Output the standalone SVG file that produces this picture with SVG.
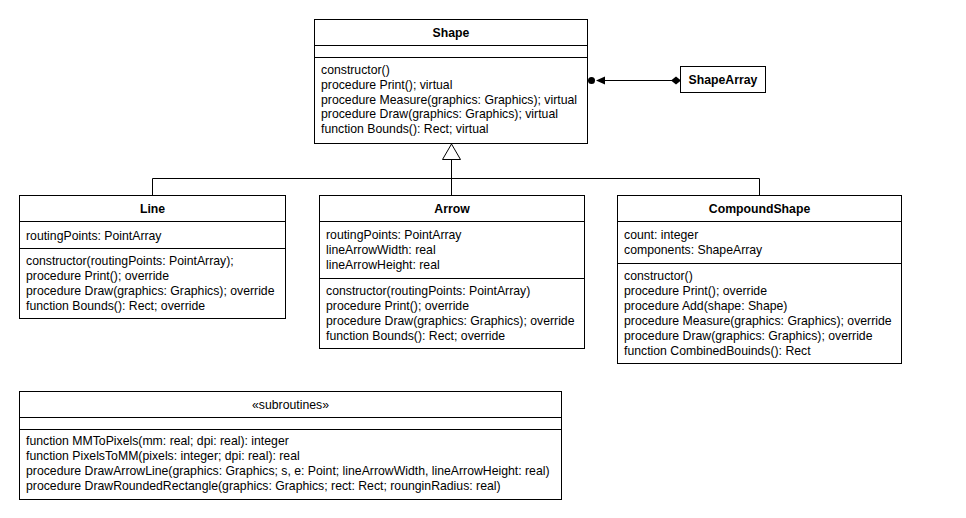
<svg xmlns="http://www.w3.org/2000/svg" width="966" height="518" viewBox="0 0 966 518">
<style>
  .box { fill: #ffffff; stroke: #000000; stroke-width: 1; }
  .sep { stroke: #000000; stroke-width: 1; fill: none; }
  .t { font-family: "Liberation Sans", Arial, sans-serif; font-size: 12.25px; fill: #000000; }
  .title { font-family: "Liberation Sans", Arial, sans-serif; font-size: 12.25px; font-weight: bold; fill: #000000; text-anchor: middle; }
  .stereo { font-family: "Liberation Sans", Arial, sans-serif; font-size: 12.25px; fill: #000000; text-anchor: middle; }
  .conn { stroke: #000000; stroke-width: 1; fill: none; }
</style>
<rect width="966" height="518" fill="#ffffff"/>

<g id="connectors">
  <!-- generalization -->
  <polyline class="conn" points="152.5,195 152.5,178.5 759.5,178.5 759.5,195"/>
  <line class="conn" x1="451.5" y1="159" x2="451.5" y2="195"/>
  <polygon points="451.5,144 442.5,159.5 460.5,159.5" fill="#ffffff" stroke="#000000" stroke-width="1"/>
  <!-- aggregation ShapeArray -> Shape -->
  <line class="conn" x1="600" y1="80.5" x2="672" y2="80.5"/>
  <circle cx="591.5" cy="80.5" r="3.5" fill="#000000"/>
  <polygon points="596,80.5 605,76.5 605,84.5" fill="#000000"/>
  <polygon points="671,80.5 676,76.5 681,80.5 676,84.5" fill="#000000"/>
</g>

<g id="node-shape">
  <rect class="box" x="314.5" y="19.5" width="273" height="124"/>
  <line class="sep" x1="314.5" y1="45.5" x2="587.5" y2="45.5"/>
  <line class="sep" x1="314.5" y1="57.5" x2="587.5" y2="57.5"/>
  <text class="title" x="451" y="37">Shape</text>
  <text class="t" x="321" y="74">constructor()</text>
  <text class="t" x="321" y="89">procedure Print(); virtual</text>
  <text class="t" x="321" y="103.5">procedure Measure(graphics: Graphics); virtual</text>
  <text class="t" x="321" y="118">procedure Draw(graphics: Graphics); virtual</text>
  <text class="t" x="321" y="133">function Bounds(): Rect; virtual</text>
</g>

<g id="node-shapearray">
  <rect class="box" x="680.5" y="66.5" width="85" height="26"/>
  <text class="title" x="723" y="84">ShapeArray</text>
</g>

<g id="node-line">
  <rect class="box" x="19.5" y="195.5" width="266" height="123"/>
  <line class="sep" x1="19.5" y1="221.5" x2="285.5" y2="221.5"/>
  <line class="sep" x1="19.5" y1="248.5" x2="285.5" y2="248.5"/>
  <text class="title" x="152.5" y="212.5">Line</text>
  <text class="t" x="26" y="239.5">routingPoints: PointArray</text>
  <text class="t" x="26" y="265">constructor(routingPoints: PointArray);</text>
  <text class="t" x="26" y="280">procedure Print(); override</text>
  <text class="t" x="26" y="295">procedure Draw(graphics: Graphics); override</text>
  <text class="t" x="26" y="310">function Bounds(): Rect; override</text>
</g>

<g id="node-arrow">
  <rect class="box" x="319.5" y="195.5" width="265" height="153"/>
  <line class="sep" x1="319.5" y1="221.5" x2="584.5" y2="221.5"/>
  <line class="sep" x1="319.5" y1="278.5" x2="584.5" y2="278.5"/>
  <text class="title" x="452" y="212.5">Arrow</text>
  <text class="t" x="326" y="238.5">routingPoints: PointArray</text>
  <text class="t" x="326" y="253.5">lineArrowWidth: real</text>
  <text class="t" x="326" y="268.5">lineArrowHeight: real</text>
  <text class="t" x="326" y="294.5">constructor(routingPoints: PointArray)</text>
  <text class="t" x="326" y="309.5">procedure Print(); override</text>
  <text class="t" x="326" y="324.5">procedure Draw(graphics: Graphics); override</text>
  <text class="t" x="326" y="339.5">function Bounds(): Rect; override</text>
</g>

<g id="node-compoundshape">
  <rect class="box" x="617.5" y="195.5" width="284" height="168"/>
  <line class="sep" x1="617.5" y1="221.5" x2="901.5" y2="221.5"/>
  <line class="sep" x1="617.5" y1="263.5" x2="901.5" y2="263.5"/>
  <text class="title" x="759.5" y="212.5">CompoundShape</text>
  <text class="t" x="624" y="238.5">count: integer</text>
  <text class="t" x="624" y="253.5">components: ShapeArray</text>
  <text class="t" x="624" y="279.5">constructor()</text>
  <text class="t" x="624" y="294.5">procedure Print(); override</text>
  <text class="t" x="624" y="309.5">procedure Add(shape: Shape)</text>
  <text class="t" x="624" y="324.5">procedure Measure(graphics: Graphics); override</text>
  <text class="t" x="624" y="339.5">procedure Draw(graphics: Graphics); override</text>
  <text class="t" x="624" y="354.5">function CombinedBouinds(): Rect</text>
</g>

<g id="node-subroutines">
  <rect class="box" x="19.5" y="391.5" width="542" height="108"/>
  <line class="sep" x1="19.5" y1="417.5" x2="561.5" y2="417.5"/>
  <line class="sep" x1="19.5" y1="429.5" x2="561.5" y2="429.5"/>
  <text class="stereo" x="290.5" y="409">«subroutines»</text>
  <text class="t" x="26" y="445">function MMToPixels(mm: real; dpi: real): integer</text>
  <text class="t" x="26" y="460">function PixelsToMM(pixels: integer; dpi: real): real</text>
  <text class="t" x="26" y="475">procedure DrawArrowLine(graphics: Graphics; s, e: Point; lineArrowWidth, lineArrowHeight: real)</text>
  <text class="t" x="26" y="490">procedure DrawRoundedRectangle(graphics: Graphics; rect: Rect; rounginRadius: real)</text>
</g>
</svg>
